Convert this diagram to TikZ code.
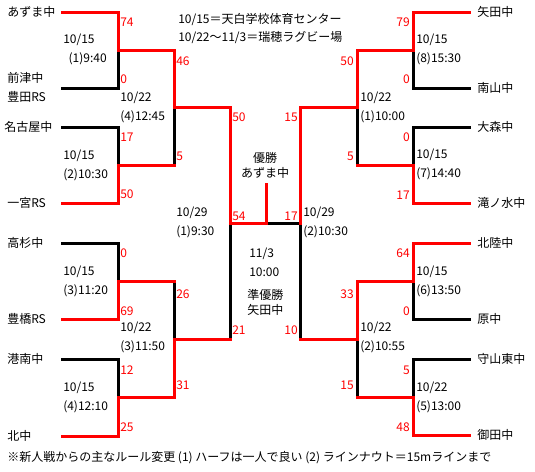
\documentclass[tikz,border=0pt]{standalone}
\usepackage{fontspec}
\setmainfont{Noto Sans CJK JP}
\begin{document}
\begin{tikzpicture}[x=0.75pt, y=-0.75pt, every node/.style={font=\fontsize{9}{14.25}\selectfont, inner sep=0pt},
  win/.style={red, line width=2.25pt, line cap=rect}, lose/.style={black, line width=2.25pt, line cap=rect},
  team/.style={anchor=west, align=left}, sc/.style={text=red, anchor=west}, scr/.style={text=red, anchor=east},
  dt/.style={anchor=west, align=left}]
\useasboundingbox (0,0) rectangle (535,471);
% left half
\coordinate (L1) at (62,12); \coordinate (L2) at (62,88); \coordinate (L3) at (62,127); \coordinate (L4) at (62,203);
\coordinate (L5) at (62,243); \coordinate (L6) at (62,319); \coordinate (L7) at (62,359); \coordinate (L8) at (62,436);
\coordinate (M1) at (118,50); \coordinate (M2) at (118,165); \coordinate (M3) at (118,281); \coordinate (M4) at (118,397);
\coordinate (N1) at (174,107); \coordinate (N2) at (174,339); \coordinate (S1) at (230,223);
% right half
\coordinate (R1) at (469,12); \coordinate (R2) at (469,88); \coordinate (R3) at (469,127); \coordinate (R4) at (469,203);
\coordinate (R5) at (469,243); \coordinate (R6) at (469,319); \coordinate (R7) at (469,359); \coordinate (R8) at (469,435);
\coordinate (P1) at (413,50); \coordinate (P2) at (413,165); \coordinate (P3) at (413,281); \coordinate (P4) at (413,397);
\coordinate (Q1) at (357,107); \coordinate (Q2) at (357,339); \coordinate (S2) at (300,223);
% final
\coordinate (F) at (266,223); \coordinate (C) at (266,184);
% losing sides
\draw[lose] (L2) -| (M1); \draw[lose] (L3) -| (M2); \draw[lose] (L5) -| (M3); \draw[lose] (L7) -| (M4);
\draw[lose] (M2 -| N1) -- (N1); \draw[lose] (M3 -| N2) -- (N2); \draw[lose] (N2 -| S1) -- (S1);
\draw[lose] (R2) -| (P1); \draw[lose] (R3) -| (P2); \draw[lose] (R6) -| (P3); \draw[lose] (R7) -| (P4);
\draw[lose] (P2 -| Q1) -- (Q1); \draw[lose] (P4 -| Q2) -- (Q2); \draw[lose] (Q2 -| S2) -- (S2); \draw[lose] (S2) -- (F);
% winning sides
\draw[win] (L1) -| (M1) -| (N1) -| (S1) -- (F) -- (C);
\draw[win] (L4) -| (M2) -- (M2 -| N1); \draw[win] (L6) -| (M3) -- (M3 -| N2);
\draw[win] (L8) -| (M4) -| (N2) -- (N2 -| S1);
\draw[win] (R1) -| (P1) -| (Q1) -| (S2);
\draw[win] (R4) -| (P2) -- (P2 -| Q1); \draw[win] (R8) -| (P4) -- (P4 -| Q2);
\draw[win] (R5) -| (P3) -| (Q2) -- (Q2 -| S2);
% teams
\node[team] (t1) at (7,12) {あずま中};
\node[team] (t2) at (7,87.5) {前津中\\豊田RS};
\node[team] (t3) at (4,127) {名古屋中};
\node[team] (t4) at (7,203) {一宮RS};
\node[team] (t5) at (7,243) {高杉中};
\node[team] (t6) at (7,319) {豊橋RS};
\node[team] (t7) at (7,359) {港南中};
\node[team] (t8) at (7,436) {北中};
\node[team] (u1) at (477,12) {矢田中};
\node[team] (u2) at (477,88) {南山中};
\node[team] (u3) at (477,127) {大森中};
\node[team] (u4) at (477,203) {滝ノ水中};
\node[team] (u5) at (477,243) {北陸中};
\node[team] (u6) at (477,319) {原中};
\node[team] (u7) at (477,359) {守山東中};
\node[team] (u8) at (477,435) {御田中};
% scores
\node[sc] (s74) at (120,22) {74}; \node[sc] (s0a) at (120,79) {0};
\node[sc] (s17a) at (120,137) {17}; \node[sc] (s50a) at (120,194) {50};
\node[sc] (s0b) at (120,253) {0}; \node[sc] (s69) at (120,311) {69};
\node[sc] (s12) at (120,370) {12}; \node[sc] (s25) at (120,427) {25};
\node[sc] (s46) at (176,61) {46}; \node[sc] (s5a) at (176,156) {5};
\node[sc] (s26) at (176,294) {26}; \node[sc] (s31) at (176,385) {31};
\node[sc] (s50b) at (232,117) {50}; \node[sc] (s21) at (232,330) {21}; \node[sc] (s54) at (232,216) {54};
\node[scr] (s79) at (410,22) {79}; \node[scr] (s0c) at (410,79) {0};
\node[scr] (s0d) at (410,137) {0}; \node[scr] (s17b) at (410,195) {17};
\node[scr] (s64) at (410,253) {64}; \node[scr] (s0e) at (410,311) {0};
\node[scr] (s5b) at (410,370) {5}; \node[scr] (s48) at (410,427) {48};
\node[scr] (s50c) at (354,61) {50}; \node[scr] (s5c) at (354,156) {5};
\node[scr] (s33) at (354,294) {33}; \node[scr] (s15a) at (354,385) {15};
\node[scr] (s15b) at (298,117) {15}; \node[scr] (s10) at (298,330) {10}; \node[scr] (s17c) at (298,216) {17};
% dates
\node[dt] (d1) at (63,49.5) {10/15\\\hspace*{4pt}(1)9:40};
\node[dt] (d2) at (63,165) {10/15\\(2)10:30};
\node[dt] (d3) at (63,281) {10/15\\(3)11:20};
\node[dt] (d4) at (63,397.5) {10/15\\(4)12:10};
\node[dt] (e1) at (120,107) {10/22\\(4)12:45};
\node[dt] (e2) at (120,337.5) {10/22\\(3)11:50};
\node[dt] (g1) at (176,222) {10/29\\(1)9:30};
\node[dt] (g2) at (303,222) {10/29\\(2)10:30};
\node[dt] (e3) at (360,107) {10/22\\(1)10:00};
\node[dt] (e4) at (360,337.5) {10/22\\(2)10:55};
\node[dt] (d8) at (416,49.5) {10/15\\(8)15:30};
\node[dt] (d7) at (416,164.5) {10/15\\(7)14:40};
\node[dt] (d6) at (416,281) {10/15\\(6)13:50};
\node[dt] (d5) at (416,397) {10/22\\(5)13:00};
% header and centre
\node[dt, font=\fontsize{9}{13.5}\selectfont] (hd) at (178,29) {10/15＝天白学校体育センター\\10/22～11/3＝瑞穂ラグビー場};
\node[align=center, font=\fontsize{9}{11.25}\selectfont] (champ) at (265,165.5) {優勝\\あずま中};
\node[dt] (fdate) at (249,262.5) {11/3\\10:00};
\node[dt, font=\fontsize{9}{11.25}\selectfont] (runner) at (247,302.5) {準優勝\\矢田中};
\node[anchor=west] (note) at (7,458) {※新人戦からの主なルール変更 (1) ハーフは一人で良い (2) ラインナウト＝15mラインまで};
\end{tikzpicture}
\end{document}
